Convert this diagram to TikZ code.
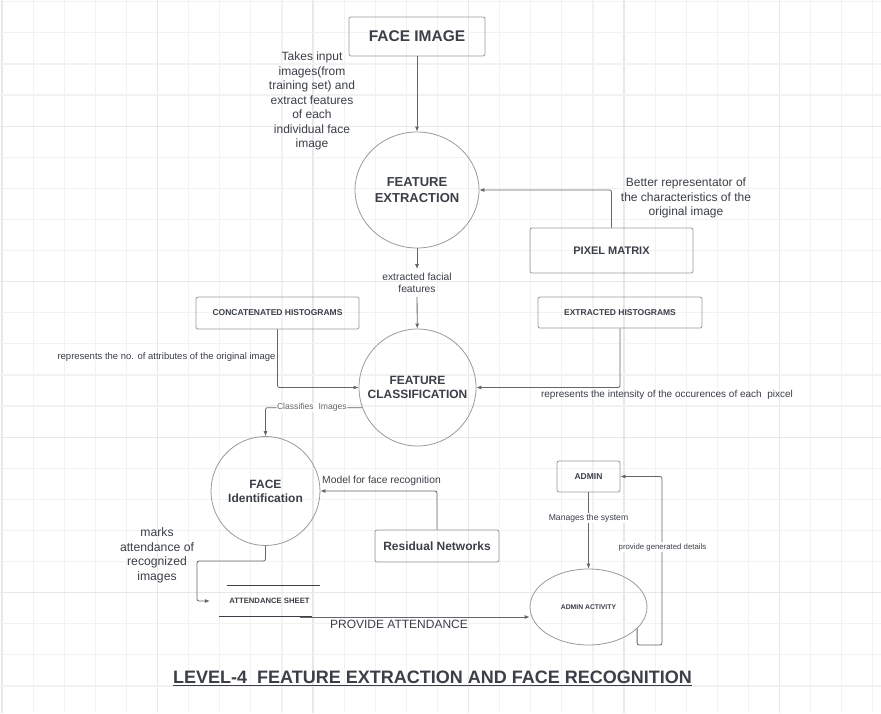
\documentclass[tikz,border=0pt]{standalone}
\usepackage{fontspec}
\setmainfont{Liberation Sans}
\usepackage{xcolor}
\usetikzlibrary{arrows.meta,shapes.geometric,calc}
\definecolor{txtcol}{HTML}{3A3F48}
\definecolor{edgecol}{HTML}{9A9A9A}
\definecolor{linecol}{HTML}{666666}
\definecolor{gridminor}{HTML}{F2F2F2}
\definecolor{gridmajor}{HTML}{E8E8E8}
\newcommand{\txtsize}[2]{\fontsize{#1}{#2}\selectfont}
\tikzset{
  procbox/.style={draw=edgecol, rounded corners=2pt, line width=0.8pt, text=txtcol, align=center, inner sep=0pt},
  procellipse/.style={ellipse, draw=edgecol, line width=0.8pt, text=txtcol, align=center, inner sep=0pt},
  flow/.style={draw=linecol, line width=0.8pt, -{Latex[length=5pt,width=4pt]}},
  note/.style={text=txtcol, align=center, inner sep=1pt},
  gridline/.style={draw=gridminor, line width=1.2pt},
}
\begin{document}
\begin{tikzpicture}[x=1pt,y=-1pt]
    \fill[white] (0,0) rectangle (881,713);
    \useasboundingbox (0,0) rectangle (881,713);
    %
    \foreach \i in {0,...,28} {
      \pgfmathtruncatemacro{\ismajor}{mod(\i,5)==0}
      \ifnum\ismajor=1 \draw[gridline, draw=gridmajor] (2+31.1*\i,0) -- (2+31.1*\i,713);
      \else \draw[gridline] (2+31.1*\i,0) -- (2+31.1*\i,713); \fi
    }
    \foreach \j in {0,...,22} {
      \pgfmathtruncatemacro{\ismajor}{mod(\j,5)==4}
      \ifnum\ismajor=1 \draw[gridline, draw=gridmajor] (0,1.7+31.1*\j) -- (881,1.7+31.1*\j);
      \else \draw[gridline] (0,1.7+31.1*\j) -- (881,1.7+31.1*\j); \fi
    }
    %
    \node[procbox, minimum width=136pt, minimum height=39pt, font=\txtsize{15.5}{18}\bfseries] (faceimg) at (417,36.5) {FACE IMAGE};
    \node[procellipse, minimum width=124pt, minimum height=116pt, inner xsep=-4pt, font=\txtsize{13}{16}\bfseries] (fext) at (417,190) {FEATURE\\EXTRACTION};
    \node[procbox, minimum width=163pt, minimum height=45pt, font=\txtsize{11}{13}\bfseries] (pixel) at (611.5,250.5) {PIXEL MATRIX};
    \node[procbox, minimum width=163pt, minimum height=32pt, font=\txtsize{8.5}{10}\bfseries] (concat) at (277.5,313) {CONCATENATED HISTOGRAMS};
    \node[procbox, minimum width=164pt, minimum height=31pt, font=\txtsize{8.5}{10}\bfseries] (exthist) at (620,312.5) {EXTRACTED HISTOGRAMS};
    \node[procellipse, minimum width=117pt, minimum height=117pt, inner xsep=-12pt, font=\txtsize{12}{13.3}\bfseries] (fclass) at (417.5,387.5) {FEATURE\\CLASSIFICATION};
    \node[procellipse, minimum width=109pt, minimum height=109pt, inner xsep=-4pt, font=\txtsize{12}{14}\bfseries] (faceid) at (265.5,491) {FACE\\Identification};
    \node[procbox, minimum width=124pt, minimum height=32pt, font=\txtsize{12}{14}\bfseries] (resnet) at (437,546) {Residual Networks};
    \node[procbox, minimum width=63pt, minimum height=31pt, font=\txtsize{8.5}{10}\bfseries] (admin) at (588.5,476.5) {ADMIN};
    \node[procellipse, minimum width=117pt, minimum height=76pt, font=\txtsize{6.8}{8}\bfseries] (adminact) at (588.5,607) {ADMIN ACTIVITY};
    \node[text=txtcol, font=\txtsize{7.7}{9}\bfseries] (attsheet) at (269.5,601) {ATTENDANCE SHEET};
    \draw[txtcol, line width=0.9pt] (227,585) -- (320,585);
    \draw[txtcol, line width=0.9pt] (219,616) -- (312,616);
    %
    \node[note, font=\txtsize{12}{14.5}] (takesnote) at (312,101) {Takes input\\images(from\\training set) and\\extract features\\of each\\individual face\\image};
    \node[note, font=\txtsize{12}{14.5}] (betternote) at (686,198) {Better representator of\\the characteristics of the\\original image};
    \node[note, inner ysep=4pt, font=\txtsize{10.3}{12}] (extnote) at (417,283) {extracted facial\\features};
    \node[note, font=\txtsize{9.5}{11}] (attrnote) at (166.5,357) {represents the no. of attributes of the original image};
    \node[note, font=\txtsize{10}{12}] (intnote) at (667,395) {represents the intensity of the occurences of each\ \ pixcel};
    \node[note, font=\txtsize{10.3}{12}] (modelnote) at (381.5,481) {Model for face recognition};
    \node[note, font=\txtsize{12.2}{14.5}] (marksnote) at (157,555.5) {marks\\attendance of\\recognized\\images};
    \node[note, font=\txtsize{12}{14}] (providenote) at (399,624) {PROVIDE ATTENDANCE};
    %
    \draw[flow] (faceimg) -- (fext);
    \draw[flow, rounded corners=2pt] (pixel.north) |- (fext.east);
    \draw[flow] (fext) -- (extnote);
    \draw[flow] (extnote) -- (fclass);
    \draw[flow, rounded corners=2pt] (concat.south) |- (fclass.west);
    \draw[flow, rounded corners=2pt] (exthist.south) |- (fclass.east);
    \draw[flow, rounded corners=2pt] (fclass.200) -| node[pos=0.26, note, fill=white, inner sep=0.5pt, font=\txtsize{8.6}{10}, text=linecol] (classnote) {Classifies\ \ Images} (faceid.north);
    \draw[flow, rounded corners=2pt] (resnet.north) |- (faceid.east);
    \draw[flow, rounded corners=2pt] (faceid.south) |- (197,561) |- ([xshift=-16pt]attsheet.west);
    \coordinate (attout) at (300,617);
    \draw[flow] (attout) -- (attout -| adminact.west);
    \draw[flow] (admin) -- (adminact);
    \coordinate (loopc) at (662,645);
    \draw[flow, rounded corners=2pt] (adminact.-24) |- (loopc) |- (admin.east);
    \node[note, fill=white, font=\txtsize{8.6}{10}] (managenote) at (588.5,518) {Manages the system};
    \node[note, fill=white, font=\txtsize{7.8}{9}] (detailnote) at (662.5,547) {provide generated details};
    %
    \node[text=txtcol, inner sep=0pt, font=\txtsize{18}{21}\bfseries] (title) at (432.5,677) {LEVEL-4\ \ FEATURE EXTRACTION AND FACE RECOGNITION};
    \draw[txtcol, line width=1.3pt] ([yshift=-1.8pt]title.south west) -- ([yshift=-1.8pt]title.south east);
\end{tikzpicture}
\end{document}
